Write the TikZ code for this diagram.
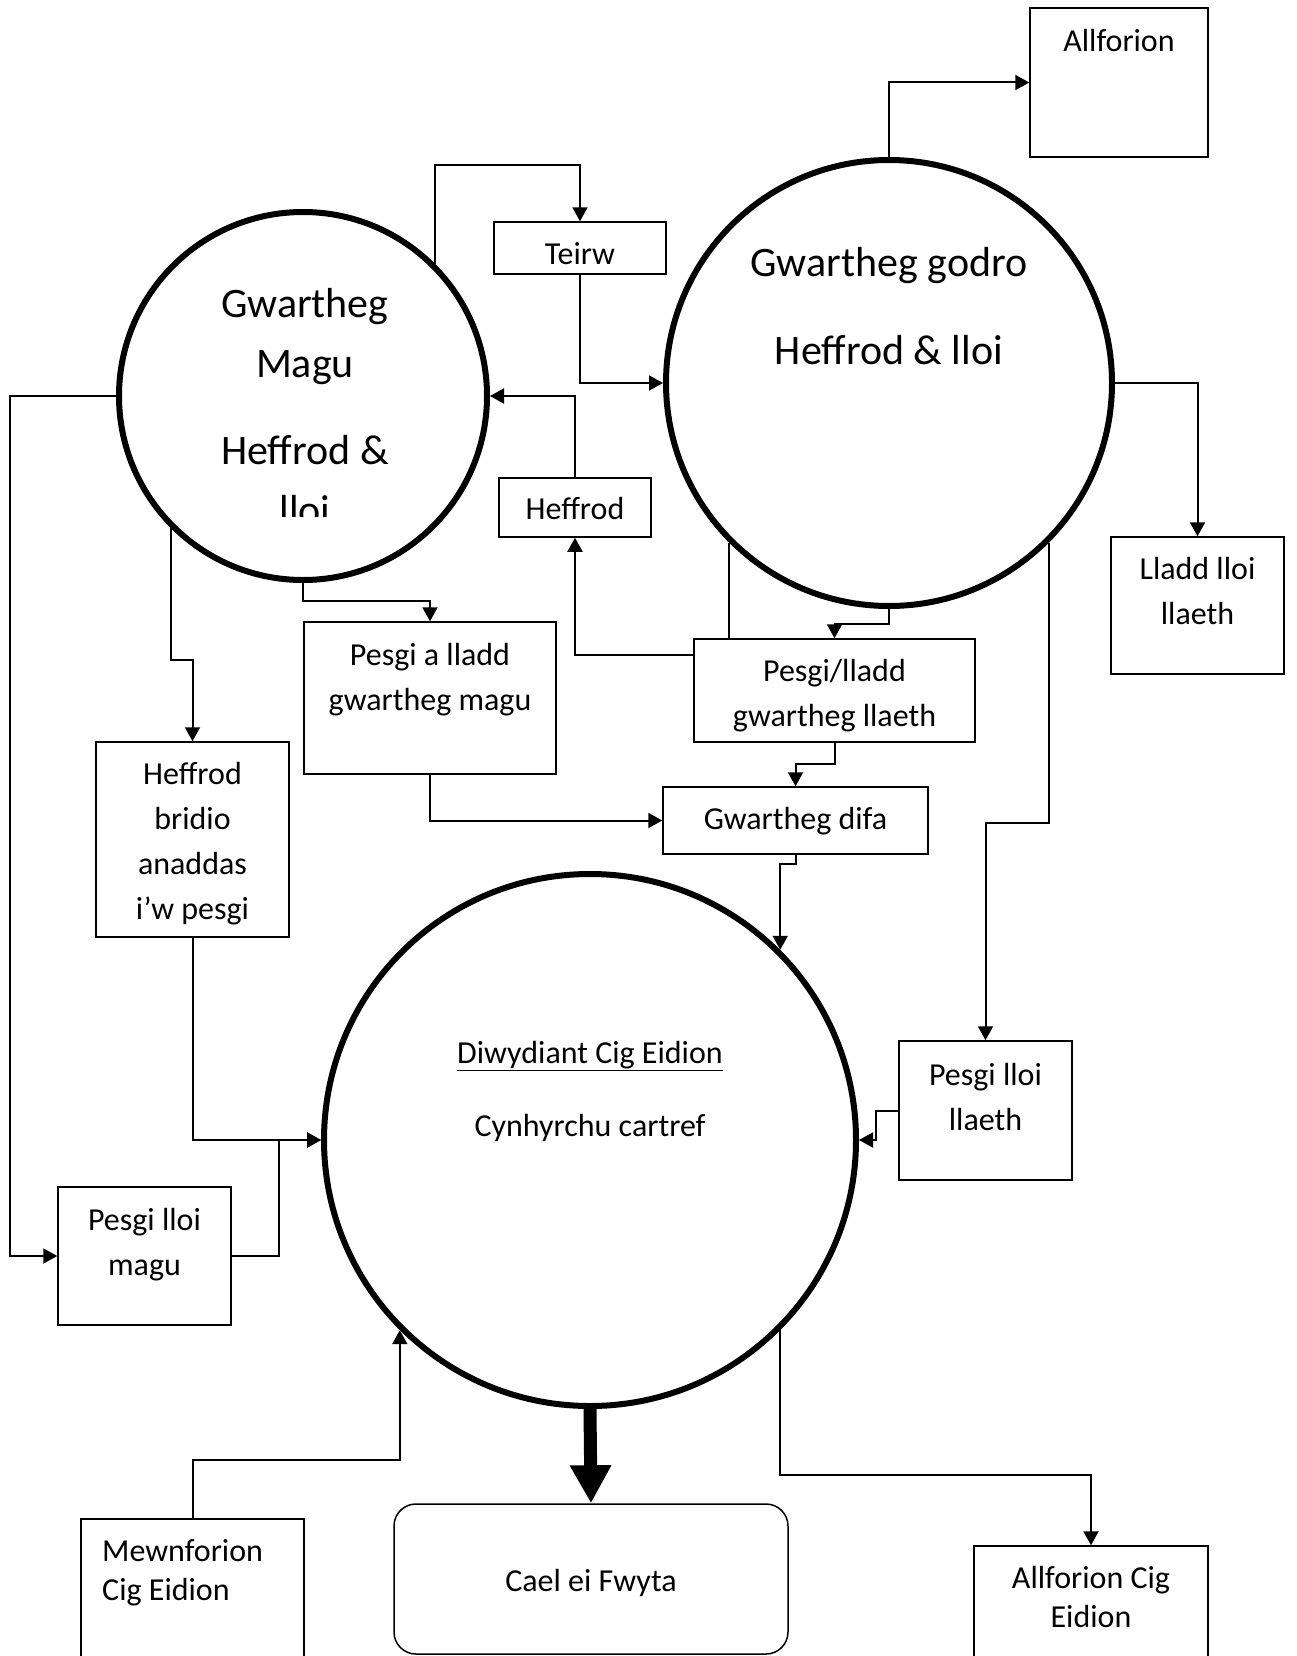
\documentclass[tikz,border=0pt]{standalone}
\usepackage{fontspec}
\setmainfont{Carlito}
\usetikzlibrary{arrows.meta}
\usetikzlibrary{calc}
\usetikzlibrary{backgrounds}

\begin{document}
\begin{tikzpicture}[x=1pt, y=-1pt,
        circle_style/.style={circle, draw, line width=6pt, fill=white, inner sep=0pt},
        box_style/.style={draw, line width=1.5pt, fill=white, inner sep=0pt},
        text_style/.style={font=\fontsize{32}{45}\selectfont, align=center, inner sep=0pt},
        big_text_style/.style={font=\fontsize{42}{60}\selectfont, align=center, inner sep=0pt},
        edge_style/.style={draw, line width=2pt, -{Triangle[length=14pt,width=15pt]}},
        big_edge_style/.style={draw, line width=13pt, -{Triangle[length=38pt,width=39pt]}}]

        \useasboundingbox (0,0) rectangle (1297,1656);

        \node [circle_style, minimum size=368pt] (magu) at (303,396) {};

        \node [circle_style, minimum size=446pt] (godro) at (889,383) {};

        \node [circle_style, minimum size=532pt] (diw) at (590,1140) {};

        \node [big_text_style] (godro_t1) at (889,266) {Gwartheg godro};
        \node [big_text_style] (godro_t2) at (889,350) {Heffrod \& lloi};

        \begin{scope}
        \clip (110,200) rectangle (500,516);
        \node [big_text_style] (magu_t1) at (305,337) {Gwartheg\\Magu};
        \node [big_text_style] (magu_t2) at (305,480) {Heffrod \&\\lloi};
        \end{scope}

        \node [text_style] (diw_t1) at (590,1056) {\underline{Diwydiant Cig Eidion}};
        \node [text_style] (diw_t2) at (590,1128) {Cynhyrchu cartref};

        \node [box_style, minimum width=178pt, minimum height=149pt] (allf) at (1119,82.5) {};
        \node [text_style] (allf_t) at (1119,40.5) {Allforion};

        \node [box_style, minimum width=173pt, minimum height=137pt] (lladd) at (1197.5,605.5) {};
        \node [text_style] (lladd_t) at (1197.5,591.5) {Lladd lloi\\llaeth};

        \node [box_style, minimum width=172pt, minimum height=52pt] (teirw) at (580,248) {};
        \node [text_style] (teirw_t) at (580,253.5) {Teirw};

        \node [box_style, minimum width=152pt, minimum height=59pt] (heffrod) at (575,507.5) {};
        \node [text_style] (heffrod_t) at (575,508.5) {Heffrod};

        \node [box_style, minimum width=281pt, minimum height=103pt] (plg) at (834.5,690.5) {};
        \node [text_style] (plg_t) at (834.5,695.5) {Pesgi/lladd\\gwartheg llaeth};

        \node [box_style, minimum width=252pt, minimum height=152pt] (plm) at (430,698) {};
        \node [text_style] (plm_t) at (430,679.5) {Pesgi a lladd\\gwartheg magu};

        \node [box_style, minimum width=265pt, minimum height=67pt] (difa) at (795.5,820.5) {};
        \node [text_style] (difa_t) at (795.5,821.5) {Gwartheg difa};

        \node [box_style, minimum width=193pt, minimum height=195pt] (hba) at (192.5,839.5) {};
        \node [text_style] (hba_t) at (192.5,843.5) {Heffrod\\bridio\\anaddas\\i’w pesgi};

        \node [box_style, minimum width=173pt, minimum height=138pt] (plmagu) at (144.5,1256) {};
        \node [text_style] (plmagu_t) at (144.5,1245) {Pesgi lloi\\magu};

        \node [box_style, minimum width=173pt, minimum height=139pt] (pll) at (985.5,1110.5) {};
        \node [text_style] (pll_t) at (985.5,1096.5) {Pesgi lloi\\llaeth};

        \node [box_style, rounded corners=22pt, minimum width=394pt, minimum height=150pt] (cael) at (591,1579) {};
        \node [text_style] (cael_t) at (591,1583) {Cael ei Fwyta};

        \node [box_style, minimum width=223pt, minimum height=181pt] (mewn) at (192.5,1609.5) {};
        \node [text_style, font=\fontsize{32}{39}\selectfont, align=left, anchor=west] (mewn_t) at (102,1572.5) {Mewnforion\\Cig Eidion};

        \node [box_style, minimum width=234pt, minimum height=154pt] (acg) at (1091,1623) {};
        \node [text_style, font=\fontsize{32}{39}\selectfont] (acg_t) at (1091,1597) {Allforion Cig\\Eidion};

        \begin{scope}[on background layer]
        \draw [edge_style] (magu.45) -- ++(0,-99) -| (teirw.north);
        \draw [edge_style] (teirw.south) |- (godro.west);
        \draw [edge_style] (heffrod.north) |- (magu.east);
        \draw [edge_style] (godro.225) -- ++(0,112) -| (heffrod.south);
        \draw [edge_style] (godro.south) -- ++(0,15) -| (plg.north);
        \draw [edge_style] (godro.east) -| (lladd.north);
        \draw [edge_style] (godro.north) |- (allf.west);
        \draw [edge_style] (godro.-45) -- ++(0,280) -| (pll.north);
        \draw [edge_style] (magu.225) -- ++(0,132) -| (hba.north);
        \draw [edge_style] (magu.south) -- ++(0,18) -| (plm.north);
        \draw [edge_style] (magu.west) -- ++(-106.5,0) |- (plmagu.west);
        \draw [edge_style] (plm.south) |- (difa.west);
        \draw [edge_style] (plg.south) -- ++(0,21) -| (difa.north);
        \draw [edge_style] (difa.south) -- ++(0,9) -| (diw.45);
        \draw [edge_style] (hba.south) |- (diw.west);
        \draw [edge_style] (plmagu.east) -- ++(47,0) |- (diw.west);
        \draw [edge_style] (pll.west) -- ++(-22,0) |- (diw.east);
        \draw [edge_style] (mewn.north) -- ++(0,-58) -| (diw.225);
        \draw [edge_style] (diw.-45) -- ++(0,145) -| (acg.north);
        \draw [big_edge_style] (diw.south) -- (cael.north);
        \end{scope}

\end{tikzpicture}
\end{document}
